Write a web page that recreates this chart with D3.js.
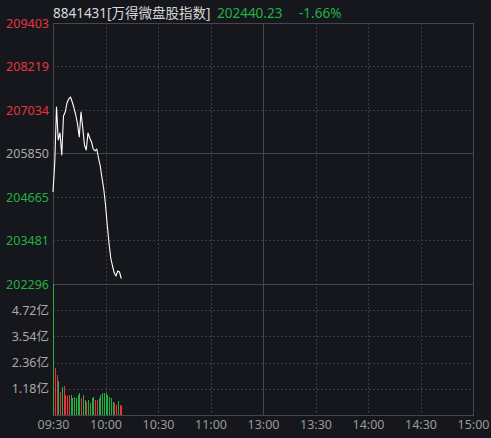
<!DOCTYPE html>
<html><head><meta charset="utf-8">
<script src="https://cdn.jsdelivr.net/npm/d3@7/dist/d3.min.js"></script>
<style>
html,body{margin:0;padding:0;background:#15171c;}
svg{display:block;}
text{font-family:"Noto Sans","Noto Sans CJK SC",sans-serif;}
</style></head><body>
<div id="chart"></div>
<script>
// ---- data ----
const title = "8841431[万得微盘股指数]";
const lastPrice = "202440.23";
const lastPct = "-1.66%";
const prevClose = 205850;
const timeLabels = ["09:30","10:00","10:30","11:00","13:00","13:30","14:00","14:30","15:00"];
const timeLabelMinutes = [0,30,60,90,120,150,180,210,240];
const priceTicks = [202296,203481,204665,205850,207034,208219,209403];
const volumeTicks = [1.18,2.36,3.54,4.72];
const times = ["09:30","09:31","09:32","09:33","09:34","09:35","09:36","09:37","09:38","09:39",
               "09:40","09:41","09:42","09:43","09:44","09:45","09:46","09:47","09:48","09:49",
               "09:50","09:51","09:52","09:53","09:54","09:55","09:56","09:57","09:58","09:59",
               "10:00","10:01","10:02","10:03","10:04","10:05","10:06","10:07","10:08","10:09"];
const prices = [204801,205591,207116,206217,206408,205809,206871,206980,207225,207334,
                207388,207252,207088,206898,206653,206299,206980,206544,206081,205945,
                206408,206272,206163,205972,205918,205972,205727,205509,205182,204883,
                204447,203903,203412,203004,202786,202595,202514,202650,202623,202440.23];
const volumes = [5.90,2.11,1.81,1.51,1.05,1.28,1.31,0.90,0.86,0.90,
                 0.90,0.75,0.83,0.75,0.90,0.98,0.75,0.90,0.68,0.60,
                 0.68,0.56,0.75,0.83,0.68,0.68,0.75,0.90,0.98,1.01,
                 0.98,0.90,0.83,0.75,0.60,0.53,0.45,0.65,0.45,0.41];
// 1 = up (red), -1 = down (green)
const volumeDir = [-1,1,1,-1,1,-1,1,1,1,1,
                   -1,-1,-1,-1,-1,-1,1,-1,-1,1,
                   -1,-1,-1,-1,1,1,-1,-1,-1,-1,
                   -1,-1,-1,-1,-1,1,1,-1,1,1];

// ---- layout ----
const W = 491, H = 438;
const L = 53, R = 473, T = 23, MID = 284, B = 415;
const RED = "#e8343f", GREEN = "#23b043", GRID = "#3a3d44", LINE = "#44474e";

const svg = d3.select("#chart").append("svg").attr("width", W).attr("height", H);
svg.append("rect").attr("width", W).attr("height", H).attr("fill", "#15171c");

const minuteOf = t => { const [h,m] = t.split(":").map(Number); let v = (h*60+m) - (9*60+30); if (v > 120) v -= 90; return v; };
const x = d3.scaleLinear().domain([0, 240]).range([L, R]);
const y = d3.scaleLinear().domain([priceTicks[0], priceTicks[priceTicks.length-1]]).range([MID, T]);
const yv = d3.scaleLinear().domain([0, 5.9]).range([B, MID]);

const g = svg.append("g").attr("shape-rendering", "crispEdges");
// horizontal grid (price)
priceTicks.forEach(v => {
  if (v === priceTicks[0] || v === priceTicks[priceTicks.length-1]) return;
  const yy = Math.round(y(v)) + 0.5;
  g.append("line").attr("x1", L).attr("x2", R).attr("y1", yy).attr("y2", yy)
    .attr("stroke", v === prevClose ? LINE : GRID).attr("stroke-dasharray", v === prevClose ? null : "2,2");
});
volumeTicks.forEach(v => {
  const yy = Math.round(yv(v)) + 0.5;
  g.append("line").attr("x1", L).attr("x2", R).attr("y1", yy).attr("y2", yy)
    .attr("stroke", GRID).attr("stroke-dasharray", "2,2");
});
// vertical grid
timeLabelMinutes.forEach((m, i) => {
  if (i === 0 || i === timeLabelMinutes.length-1) return;
  const xx = Math.round(x(m)) + 0.5;
  g.append("line").attr("x1", xx).attr("x2", xx).attr("y1", T).attr("y2", B)
    .attr("stroke", m === 120 ? LINE : GRID).attr("stroke-dasharray", m === 120 ? null : "2,2");
});
// borders
g.append("rect").attr("x", L + 0.5).attr("y", T + 0.5).attr("width", R - L).attr("height", B - T)
  .attr("fill", "none").attr("stroke", LINE);
g.append("line").attr("x1", L).attr("x2", R).attr("y1", MID + 0.5).attr("y2", MID + 0.5).attr("stroke", LINE);

// volume bars
svg.append("g").attr("shape-rendering", "crispEdges").selectAll("rect").data(times).join("rect")
  .attr("x", (t, i) => Math.round(x(minuteOf(t))))
  .attr("width", 1)
  .attr("y", (t, i) => yv(volumes[i]))
  .attr("height", (t, i) => B - yv(volumes[i]))
  .attr("fill", (t, i) => volumeDir[i] > 0 ? RED : GREEN);

// price line
const line = d3.line().x((t) => x(minuteOf(t))).y((t, i) => y(prices[i]));
svg.append("path").datum(times).attr("d", line).attr("fill", "none")
  .attr("stroke", "#ffffff").attr("stroke-width", 1.1).attr("stroke-linejoin", "round");

// axes
const ax = svg.append("g").attr("transform", `translate(${L - 4},0)`)
  .call(d3.axisLeft(y).tickValues(priceTicks).tickSize(0).tickPadding(0).tickFormat(d3.format("d")));
ax.select(".domain").remove();
ax.selectAll("text").attr("font-size", 12.5).attr("font-family", "'Noto Sans','Noto Sans CJK SC',sans-serif")
  .attr("fill", d => d > prevClose ? RED : d < prevClose ? GREEN : "#a9a9a9");

const av = svg.append("g").attr("transform", `translate(${L - 4},0)`)
  .call(d3.axisLeft(yv).tickValues(volumeTicks).tickSize(0).tickPadding(0).tickFormat(d => d3.format(".2f")(d) + "亿"));
av.select(".domain").remove();
av.selectAll("text").attr("font-size", 12.5).attr("font-family", "'Noto Sans','Noto Sans CJK SC',sans-serif").attr("fill", "#a9a9a9");

const at = svg.append("g").attr("transform", `translate(0,${B + 5})`)
  .call(d3.axisBottom(x).tickValues(timeLabelMinutes).tickSize(0).tickPadding(0).tickFormat((d, i) => timeLabels[i]));
at.select(".domain").remove();
at.selectAll("text").attr("font-size", 12.5).attr("font-family", "'Noto Sans','Noto Sans CJK SC',sans-serif").attr("fill", "#9a9a9a");

// title
const tt = svg.append("text").attr("x", L).attr("y", 18).attr("font-size", 13.5)
  .attr("font-family", "'Noto Sans','Noto Sans CJK SC',sans-serif");
tt.append("tspan").attr("fill", "#d8d8d8").text(title);
tt.append("tspan").attr("x", 217).attr("fill", GREEN).text(lastPrice);
tt.append("tspan").attr("x", 299).attr("fill", GREEN).text(lastPct);
</script>
</body></html>
